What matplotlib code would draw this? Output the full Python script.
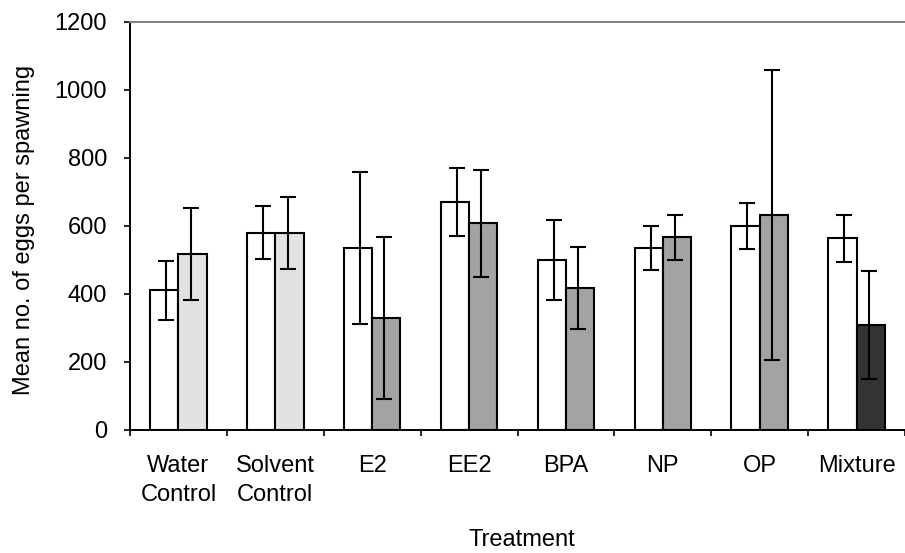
import matplotlib
matplotlib.use("Agg")
import matplotlib.pyplot as plt
import numpy as np

plt.rcParams['font.family'] = ['Liberation Sans', 'DejaVu Sans']

categories = ["Water\nControl", "Solvent\nControl", "E2", "EE2", "BPA", "NP", "OP", "Mixture"]
pre_means = [410, 580, 535, 670, 500, 535, 600, 563]
pre_err = [88, 77, 222, 100, 118, 65, 67, 68]
post_means = [517, 580, 330, 607, 418, 566, 632, 308]
post_err = [135, 106, 238, 156, 121, 67, 427, 158]
post_colors = ["#e2e2e2", "#e2e2e2", "#a3a3a3", "#a3a3a3", "#a3a3a3", "#a3a3a3", "#a3a3a3", "#333333"]
yticks = [0, 200, 400, 600, 800, 1000, 1200]

fig = plt.figure(figsize=(9.05, 5.53), dpi=100)
W, H = 905, 553
spacing = 97.57
ax = fig.add_axes([130 / W, (H - 430) / H, (W - 130) / W, 408.3 / H])

x = np.arange(len(categories)) + 0.5
w = 0.292
lw = 1.5
ax.bar(x - w / 2, pre_means, width=w, color="white", edgecolor="black", linewidth=lw, zorder=2)
ax.bar(x + w / 2, post_means, width=w, color=post_colors, edgecolor="black", linewidth=lw, zorder=2)
ax.errorbar(x - w / 2 + 0.02, pre_means, yerr=pre_err, fmt="none", ecolor="black",
            elinewidth=1.5, capsize=5.5, capthick=1.5, zorder=3)
ax.errorbar(x + w / 2 - 0.02, post_means, yerr=post_err, fmt="none", ecolor="black",
            elinewidth=1.5, capsize=5.5, capthick=1.5, zorder=3)

ax.set_xlim(0, (W - 130) / spacing)
ax.set_ylim(0, 1200)
ax.set_yticks(yticks)
ax.set_yticklabels([str(v) for v in yticks], fontsize=17)
ax.tick_params(axis="y", direction="out", length=4.5, width=1.2, pad=12)

ax.set_xticks(np.arange(0, len(categories) + 1))
ax.set_xticklabels([])
ax.tick_params(axis="x", which="major", direction="out", length=4.5, width=1.2)
ax.set_xticks(x, minor=True)
ax.set_xticklabels(categories, minor=True, fontsize=17, linespacing=1.4)
ax.tick_params(axis="x", which="minor", length=0, pad=18)

ax.spines["right"].set_visible(False)
ax.spines["top"].set_color("#808080")
ax.spines["top"].set_linewidth(1.4)
ax.spines["left"].set_linewidth(1.4)
ax.spines["bottom"].set_linewidth(1.4)

ax.set_xlabel("Treatment", fontsize=17)
ax.set_ylabel("Mean no. of eggs per spawning", fontsize=17, labelpad=14)
ax.xaxis.set_label_coords((522 - 130) / (W - 130), -0.243)
ax.yaxis.label.set_y((430 - 230) / 408.3)

fig.savefig("out.png", dpi=100)
